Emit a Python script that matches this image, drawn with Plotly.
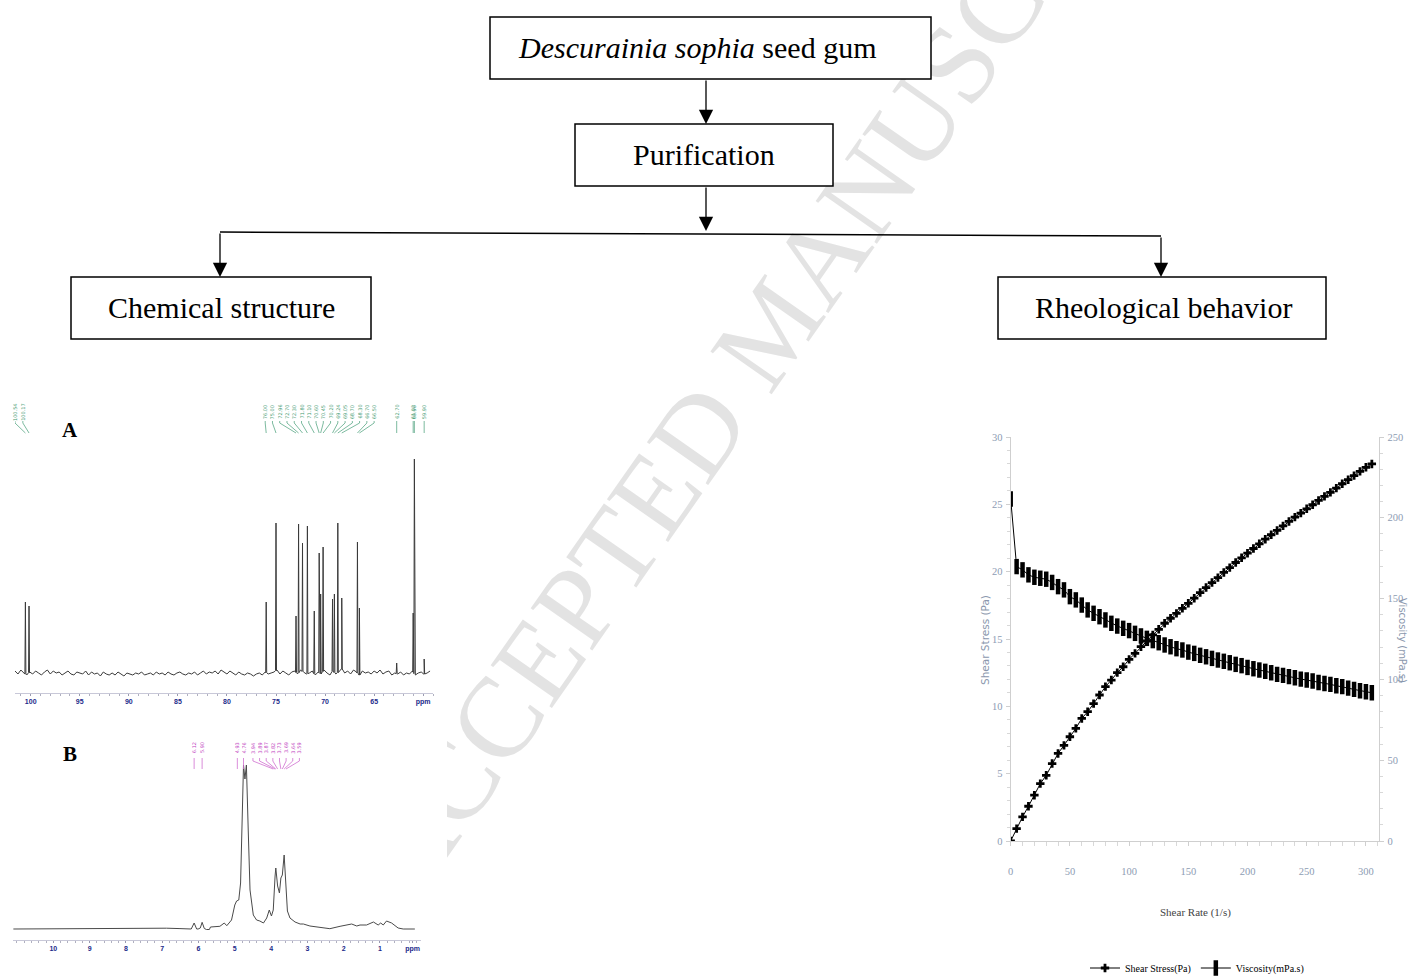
import numpy as np
import plotly.graph_objects as go

W, H = 1409, 980
def PX(x): return x / W
def PY(y): return 1 - y / H

# ---------------- data ----------------
# Panel A: 13C NMR  (ppm, peak height in relative units above baseline)
c13_peak_ppm = [100.54, 100.17, 76.00, 75.00, 72.96, 72.70, 72.30, 71.80, 71.10, 70.60, 70.45,
                70.20, 69.24, 69.05, 68.70, 68.30, 66.70, 66.50, 62.70, 61.02, 60.90, 59.90]
c13_peak_height = [71, 67, 71, 150, 57, 149, 130, 147, 62, 120, 79,
                   126, 74, 79, 150, 75, 131, 65, 10, 60, 214, 14]
c13_noise_start = 101.6
c13_noise_step = 0.3
c13_noise = [2, -1, 3, 0, -2, 1, -1, 2, 0, -2,
             1, 3, -1, 2, 0, 1, -2, 0, 2, -1,
             -2, 1, 0, -1, 2, -2, 1, -1, 0, -3,
             1, -1, -2, 0, -2, 1, -1, -3, 0, -1,
             -2, 0, -1, 1, -2, -1, 0, -2, 1, -1,
             0, -2, 1, -1, -2, 0, 1, -1, -2, 0,
             -1, 1, -2, 0, 2, -1, 1, 0, 2, -1,
             3, 1, -1, 2, 0, -2, 1, -1, -2, 0,
             -1, -3, -1, 0, -2, 1, -1, 0, 1, 3,
             -1, 2, 0, -2, 1, 2, -1, 3, 1, -1,
             0, 2, -2, 1, -1, 3, 0, -2, 2, -1,
             1, 4, 0, 2, -1, 3, 1, -2, 2, 0,
             1, -1, 2, 0, 3, -1, 1, 2, -2, 0,
             -1, 1, -2, 0, -1, 2, -2, 0, 1, -1,
             0, 2]
c13_ticks = [100, 95, 90, 85, 80, 75, 70, 65, 60]
c13_ticktext = ["100", "95", "90", "85", "80", "75", "70", "65", "ppm"]

# Panel B: 1H NMR spectrum trace (ppm, intensity)
h1_ppm = [11.10, 9.04, 8.76, 7.98, 7.25, 6.88, 6.51, 6.20, 6.12, 6.05, 6.01, 5.95, 5.90, 5.84, 5.78,
          5.70, 5.67, 5.41, 5.29, 5.22, 5.09, 5.00, 4.95, 4.89, 4.84, 4.79, 4.76, 4.72, 4.68,
          4.63, 4.58, 4.49, 4.40, 4.31, 4.21, 4.12, 4.05, 3.99, 3.94, 3.89, 3.87, 3.82, 3.77,
          3.73, 3.69, 3.64, 3.59, 3.55, 3.48, 3.34, 3.20, 3.11, 2.93, 2.65, 2.38, 2.10, 1.78,
          1.64, 1.55, 1.37, 1.18, 1.05, 0.98, 0.91, 0.82, 0.68, 0.50, 0.36, 0.04]
h1_int = [0, 0.7, 0.7, 0.5, 0.8, 0.8, 0.4, 0, 6, 0, 0, 1, 6.7, 0.5, -0.5,
          -0.5, 2, 2.7, 6, 3.3, 9, 24, 28, 29, 46, 133, 164, 150, 164,
          99, 39, 14, 9, 8, 6, 11, 19, 13, 19, 53, 61, 43, 36,
          51, 54, 74, 43, 18, 11, 7, 5, 5, 3, 2, 0.3, 2.7, 5,
          3, 4, 4, 7, 4, 6, 4, 8, 6, 1, 0, 0]
h1_label_ppm = [6.12, 5.90, 4.93, 4.76, 3.94, 3.89, 3.87, 3.82, 3.73, 3.69, 3.64, 3.59]
h1_ticks = [10, 9, 8, 7, 6, 5, 4, 3, 2, 1, 0.1]
h1_ticktext = ["10", "9", "8", "7", "6", "5", "4", "3", "2", "1", "ppm"]

# Rheology
shear_rate = [0, 5, 10, 15, 20, 25, 30, 35, 40, 45, 50, 55, 60, 65, 70, 75, 80, 85, 90, 95,
              100, 105, 110, 115, 120, 125, 130, 135, 140, 145, 150, 155, 160, 165, 170, 175,
              180, 185, 190, 195, 200, 205, 210, 215, 220, 225, 230, 235, 240, 245, 250, 255,
              260, 265, 270, 275, 280, 285, 290, 295, 300, 305]
shear_stress = [0, 0.92, 1.79, 2.58, 3.40, 4.26, 4.88, 5.75, 6.50, 7.10,
                7.74, 8.36, 9.10, 9.60, 10.20, 10.84, 11.46, 11.95, 12.50, 12.94,
                13.49, 13.93, 14.43, 14.85, 15.30, 15.72, 16.17, 16.54, 16.90, 17.28,
                17.65, 18.03, 18.45, 18.82, 19.19, 19.56, 19.94, 20.30, 20.68, 21.03,
                21.37, 21.72, 22.07, 22.41, 22.74, 23.06, 23.40, 23.73, 24.05, 24.35,
                24.67, 24.97, 25.29, 25.59, 25.89, 26.20, 26.53, 26.83, 27.13, 27.45,
                27.75, 28.00]
viscosity = [211.6, 169.8, 167.8, 164.7, 163.2, 162.6, 162.0, 160.0, 157.4, 155.4,
             151.2, 149.2, 146.0, 143.0, 140.9, 138.8, 136.8, 134.7, 133.0, 131.6,
             130.2, 128.5, 126.9, 125.4, 124.0, 122.7, 121.3, 120.2, 119.0, 118.2,
             116.9, 116.1, 114.9, 114.0, 113.0, 112.0, 111.2, 110.3, 109.3, 108.5,
             107.4, 106.6, 105.8, 105.0, 104.1, 103.1, 102.5, 101.7, 101.0, 100.2,
             99.6, 99.0, 98.1, 97.5, 96.9, 96.1, 95.5, 94.6, 93.8, 93.0,
             92.4, 91.7]

# ---------------- figure ----------------
fig = go.Figure()

# 13C spectrum line built from baseline samples + peak lines
nx = c13_noise_start - c13_noise_step * np.arange(len(c13_noise))
ny = np.array(c13_noise, dtype=float)
xs = list(nx); ys = list(ny)
for p, h in zip(c13_peak_ppm, c13_peak_height):
    b = float(np.interp(p, nx[::-1], ny[::-1]))
    xs += [p + 0.05, p, p - 0.05]
    ys += [b, h, b]
order = np.argsort(-np.array(xs), kind="stable")
fig.add_trace(go.Scatter(x=np.array(xs)[order], y=np.array(ys)[order], mode="lines",
                         line=dict(color="#3a3a3a", width=1), xaxis="x", yaxis="y",
                         showlegend=False, hoverinfo="skip"))

# 13C peak labels and connectors
A_groups = [((0, 2), (101.6, 100.8)), ((2, 18), (76.1, 65.0)), ((18, 22), None)]
A_lab_x = []
for (i0, i1), span in A_groups:
    if span:
        A_lab_x += list(np.linspace(span[0], span[1], i1 - i0))
    else:
        A_lab_x += c13_peak_ppm[i0:i1]
lx, ly = [], []
for lab, pk in zip(A_lab_x, c13_peak_ppm):
    lx += [lab, lab, pk, None]
    ly += [252, 250, 240, None]
fig.add_trace(go.Scatter(x=lx, y=ly, mode="lines", line=dict(color="#5aa886", width=0.8),
                         xaxis="x", yaxis="y", showlegend=False, hoverinfo="skip"))

# 1H spectrum
fig.add_trace(go.Scatter(x=h1_ppm, y=h1_int, mode="lines", line=dict(color="#4a4a4a", width=1),
                         xaxis="x2", yaxis="y2", showlegend=False, hoverinfo="skip"))
B_groups = [((0, 2), None), ((2, 4), None), ((4, 12), (4.50, 3.22))]
B_lab_x = []
for (i0, i1), span in B_groups:
    if span:
        B_lab_x += list(np.linspace(span[0], span[1], i1 - i0))
    else:
        B_lab_x += h1_label_ppm[i0:i1]
bx, by = [], []
for lab, pk in zip(B_lab_x, h1_label_ppm):
    bx += [lab, lab, pk, None]
    by += [171, 168, 160, None]
fig.add_trace(go.Scatter(x=bx, y=by, mode="lines", line=dict(color="#d070d0", width=0.8),
                         xaxis="x2", yaxis="y2", showlegend=False, hoverinfo="skip"))

# Rheology
fig.add_trace(go.Scatter(x=shear_rate, y=shear_stress, name="Shear Stress(Pa)", mode="lines+markers",
                         line=dict(color="black", width=1),
                         marker=dict(symbol="cross", size=7, color="black"),
                         xaxis="x3", yaxis="y3"))
fig.add_trace(go.Scatter(x=shear_rate, y=viscosity, name="Viscosity(mPa.s)", mode="lines+markers",
                         line=dict(color="black", width=1),
                         marker=dict(symbol="line-ns", size=11, color="black",
                                     line=dict(color="black", width=4.5)),
                         xaxis="x3", yaxis="y4"))

serif = "Liberation Serif, Times New Roman, serif"
tickblue = "#8d9cb3"

annotations = []
# NMR peak label texts
for lab, pk in zip(A_lab_x, c13_peak_ppm):
    annotations.append(dict(x=lab, y=261, xref="x", yref="y", text=f"{pk:.2f}", showarrow=False,
                            xanchor="center", yanchor="middle",
                            textangle=-90, font=dict(size=5, color="#3f9a72", family="DejaVu Sans")))
for lab, pk in zip(B_lab_x, h1_label_ppm):
    annotations.append(dict(x=lab, y=181, xref="x2", yref="y2", text=f"{pk:.2f}", showarrow=False,
                            xanchor="center", yanchor="middle",
                            textangle=-90, font=dict(size=5, color="#c040c0", family="DejaVu Sans")))

def ptext(x, y, text, font, angle=0):
    return dict(x=PX(x), y=PY(y), xref="paper", yref="paper", text=text, showarrow=False,
                xanchor="center", yanchor="middle", textangle=angle, font=font)

box_font = dict(family=serif, size=30, color="black")
annotations += [
    ptext(697, 47, "<i>Descurainia sophia</i> seed gum", box_font),
    ptext(704, 154, "Purification", box_font),
    ptext(221, 307, "Chemical structure", box_font),
    ptext(1163, 307, "Rheological behavior", box_font),
    ptext(70, 430, "<b>A</b>", dict(family=serif, size=21, color="black")),
    ptext(70, 754, "<b>B</b>", dict(family=serif, size=21, color="black")),
    ptext(1195, 912, "Shear Rate (1/s)", dict(family=serif, size=11, color="#444444")),
    ptext(985, 640, "Shear Stress (Pa)", dict(family="DejaVu Sans", size=10.5, color="#8a97ad"), -90),
    ptext(1403, 640, "Viscosity (mPa.s)", dict(family="DejaVu Sans", size=10, color="#8a97ad"), 90),
]
# arrows
for (x, y0, y1) in [(706, 79, 124), (706, 186, 231), (220, 232, 277), (1161, 236, 277)]:
    annotations.append(dict(x=PX(x), y=PY(y1), xref="paper", yref="paper", ax=0, ay=-(y1 - y0),
                            text="", showarrow=True, arrowhead=2, arrowsize=2.2, arrowwidth=1.3,
                            arrowcolor="black", standoff=0))

shapes = [
    # watermark (behind everything)
    dict(type="rect", xref="paper", yref="paper", x0=PX(562), x1=PX(962), y0=PY(520), y1=PY(120),
         line=dict(width=0), fillcolor="rgba(0,0,0,0)", layer="below",
         label=dict(text="ACCEPTED MANUSCRIPT", textangle=-55, textposition="middle center",
                    font=dict(family=serif, size=114, color="#e3e3e3"))),
    # white panels covering the watermark
    dict(type="rect", xref="paper", yref="paper", x0=0, x1=PX(447), y0=0, y1=PY(395),
         line=dict(width=0), fillcolor="white", layer="below"),
    dict(type="rect", xref="paper", yref="paper", x0=PX(970), x1=1, y0=0, y1=PY(420),
         line=dict(width=0), fillcolor="white", layer="below"),
    # boxes
    dict(type="rect", xref="paper", yref="paper", x0=PX(490), x1=PX(931), y0=PY(79), y1=PY(17),
         line=dict(color="black", width=1.5), fillcolor="white"),
    dict(type="rect", xref="paper", yref="paper", x0=PX(575), x1=PX(833), y0=PY(186), y1=PY(124),
         line=dict(color="black", width=1.5), fillcolor="white"),
    dict(type="rect", xref="paper", yref="paper", x0=PX(71), x1=PX(371), y0=PY(339), y1=PY(277),
         line=dict(color="black", width=1.5), fillcolor="white"),
    dict(type="rect", xref="paper", yref="paper", x0=PX(998), x1=PX(1326), y0=PY(339), y1=PY(277),
         line=dict(color="black", width=1.5), fillcolor="white"),
    dict(type="line", xref="paper", yref="paper", x0=PX(220), x1=PX(1161), y0=PY(232), y1=PY(236),
         line=dict(color="black", width=1.5)),
]

nmr_tickfont = dict(family="Liberation Sans, Arial", size=7, color="#1c2a8a", weight="bold")
rheo_tickfont = dict(family=serif, size=10.5, color=tickblue)
fig.update_layout(
    width=W, height=H, autosize=False,
    margin=dict(l=0, r=0, t=0, b=0, pad=0, autoexpand=False),
    paper_bgcolor="white", plot_bgcolor="rgba(0,0,0,0)",
    showlegend=True,
    legend=dict(orientation="h", x=PX(1197), xanchor="center", y=PY(968), yanchor="middle",
                font=dict(family=serif, size=10, color="black"), bgcolor="rgba(0,0,0,0)",
                itemwidth=30, tracegroupgap=0),
    xaxis=dict(domain=[PX(15), PX(433)], range=[101.6, 59.0], anchor="y",
               tickvals=c13_ticks, ticktext=c13_ticktext, tickfont=nmr_tickfont,
               showgrid=False, zeroline=False, showline=True, linecolor="#c8c8d8", linewidth=1,
               ticks="outside", ticklen=2, tickcolor="#9a9ab0",
               minor=dict(dtick=1, ticks="outside", ticklen=1.5, tickcolor="#b0b0c0")),
    yaxis=dict(domain=[PY(693), PY(400)], range=[-20, 273], visible=False, anchor="x"),
    xaxis2=dict(domain=[PX(13), PX(421)], range=[11.11, -0.13], anchor="y2",
                tickvals=h1_ticks, ticktext=h1_ticktext, tickfont=nmr_tickfont,
                showgrid=False, zeroline=False, showline=True, linecolor="#c8c8d8", linewidth=1,
                ticks="outside", ticklen=2, tickcolor="#9a9ab0",
                minor=dict(dtick=0.2, ticks="outside", ticklen=1.5, tickcolor="#b0b0c0")),
    yaxis2=dict(domain=[PY(940), PY(735)], range=[-11, 194], visible=False, anchor="x2"),
    xaxis3=dict(domain=[PX(1010.7), PX(1379.3)], range=[0, 311.3], anchor="y3",
                tickmode="array", tickvals=[0, 50, 100, 150, 200, 250, 300],
                tickfont=rheo_tickfont,
                showgrid=False, zeroline=False, showline=True, linecolor="#cfcfcf", linewidth=1,
                ticks="outside", ticklen=4, tickcolor="#cfcfcf", ticklabelstandoff=16,
                minor=dict(dtick=10, ticks="outside", ticklen=4, tickcolor="#d8d8d8")),
    yaxis3=dict(domain=[PY(841), PY(437)], range=[0, 30], anchor="x3",
                tickvals=[0, 5, 10, 15, 20, 25, 30], tickfont=rheo_tickfont,
                showgrid=False, zeroline=False, showline=True, linecolor="#cfcfcf", linewidth=1,
                ticks="outside", ticklen=4, tickcolor="#cfcfcf", ticklabelstandoff=1,
                minor=dict(dtick=1, ticks="outside", ticklen=3, tickcolor="#d8d8d8")),
    yaxis4=dict(domain=[PY(841), PY(437)], range=[0, 250], anchor="x3", overlaying="y3", side="right",
                tickvals=[0, 50, 100, 150, 200, 250], tickfont=rheo_tickfont,
                showgrid=False, zeroline=False, showline=True, linecolor="#cfcfcf", linewidth=1,
                ticks="outside", ticklen=4, tickcolor="#cfcfcf", ticklabelstandoff=1,
                minor=dict(dtick=10, ticks="outside", ticklen=3, tickcolor="#d8d8d8")),
    annotations=annotations,
    shapes=shapes,
)

fig.write_html("out.html", config={"displayModeBar": False},
               post_script="document.body.style.margin='0';document.body.style.overflow='hidden';")
